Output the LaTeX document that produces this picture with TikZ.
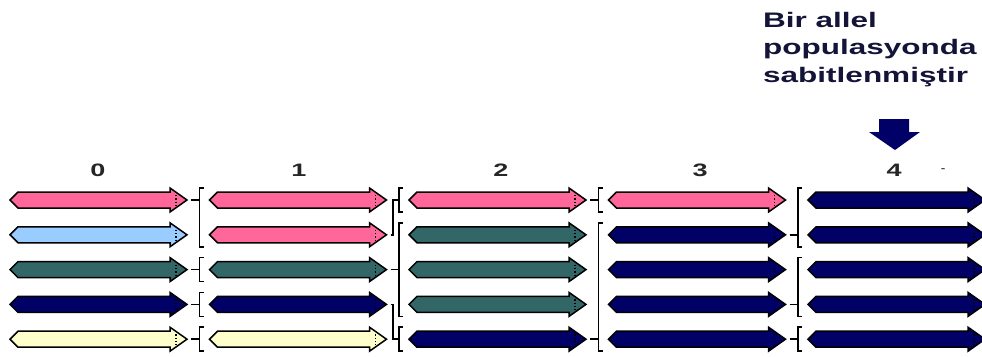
\documentclass[tikz,border=0pt]{standalone}
\usepackage{fontspec}
\setsansfont[FakeStretch=1.5]{Liberation Sans}
\usepackage{xcolor}
\usetikzlibrary{positioning}

\definecolor{pinkc}{HTML}{FF6699}
\definecolor{bluec}{HTML}{99CCFF}
\definecolor{tealc}{HTML}{336666}
\definecolor{navyc}{HTML}{000066}
\definecolor{yellowc}{HTML}{FFFFCC}
\definecolor{textc}{HTML}{141438}

\begin{document}
\begin{tikzpicture}[
    x=1pt, y=-1pt,
    % Gene copy arrow (one allele)
    pics/gene/.style={code={
        \draw[line width=1.5pt, line join=miter, fill=#1]
            (0,0) -- (8,-8) -- (160,-8) -- (160,-12) -- (177,0)
            -- (160,12) -- (160,8) -- (8,8) -- cycle;
        \draw[black, line width=1.3pt, dotted] (166,-5) -- (166,5);
        \coordinate (-tail) at (0,0);
        \coordinate (-tip) at (177,0);
    }},
    % Descent brackets
    brk/.style={line width=1.6pt, black},
    % Generation number
    genlab/.style={
        font=\sffamily\bfseries\fontsize{18}{18}\selectfont, text=black!85
    },
    % Annotation
    note/.style={
        font=\sffamily\bfseries\fontsize{21}{27.5}\selectfont, text=textc,
        align=left, inner sep=0pt
    },
]

\clip (0,0) rectangle (982,356);

% Column (tail) positions
\def\colA{10}
\def\colB{209.5}
\def\colC{409}
\def\colD{608.5}
\def\colE{808}

% Row centres
\def\rowA{200}
\def\rowB{234.8}
\def\rowC{269.6}
\def\rowD{304.4}
\def\rowE{339.2}

% Generation labels
\node[genlab] (lab0) at (98, 170) {0};
\node[genlab] (lab1) at (299, 170) {1};
\node[genlab] (lab2) at (501, 170) {2};
\node[genlab] (lab3) at (700, 170) {3};
\node[genlab] (lab4) at (894, 170) {4};
\node[font=\sffamily\bfseries\small, text=black!80] (tick) at (943, 170) {-};

% Annotation and pointer
\node[note, anchor=north west] (fixed) at (763, 12)
    {Bir allel\\populasyonda\\sabitlenmiştir};
\fill[navyc] (879,119) -- (909,119) -- (909,132) -- (920,132) -- (895,150)
    -- (869,132) -- (879,132) -- cycle;

% ===== Generation 0 =====
\pic (g0r1) at (\colA, \rowA) {gene=pinkc};
\pic (g0r2) at (\colA, \rowB) {gene=bluec};
\pic (g0r3) at (\colA, \rowC) {gene=tealc};
\pic (g0r4) at (\colA, \rowD) {gene=navyc};
\pic (g0r5) at (\colA, \rowE) {gene=yellowc};

% ===== Generation 1 =====
\pic (g1r1) at (\colB, \rowA) {gene=pinkc};
\pic (g1r2) at (\colB, \rowB) {gene=pinkc};
\pic (g1r3) at (\colB, \rowC) {gene=tealc};
\pic (g1r4) at (\colB, \rowD) {gene=navyc};
\pic (g1r5) at (\colB, \rowE) {gene=yellowc};

% ===== Generation 2 =====
\pic (g2r1) at (\colC, \rowA) {gene=pinkc};
\pic (g2r2) at (\colC, \rowB) {gene=tealc};
\pic (g2r3) at (\colC, \rowC) {gene=tealc};
\pic (g2r4) at (\colC, \rowD) {gene=tealc};
\pic (g2r5) at (\colC, \rowE) {gene=navyc};

% ===== Generation 3 =====
\pic (g3r1) at (\colD, \rowA) {gene=pinkc};
\pic (g3r2) at (\colD, \rowB) {gene=navyc};
\pic (g3r3) at (\colD, \rowC) {gene=navyc};
\pic (g3r4) at (\colD, \rowD) {gene=navyc};
\pic (g3r5) at (\colD, \rowE) {gene=navyc};

% ===== Generation 4 =====
\pic (g4r1) at (\colE, \rowA) {gene=navyc};
\pic (g4r2) at (\colE, \rowB) {gene=navyc};
\pic (g4r3) at (\colE, \rowC) {gene=navyc};
\pic (g4r4) at (\colE, \rowD) {gene=navyc};
\pic (g4r5) at (\colE, \rowE) {gene=navyc};

% Descent 0 -> 1
\draw[brk] ([shift={(-6pt,12pt)}]g1r1-tail) -| ([shift={(-10pt,-12pt)}]g1r2-tail) -- ++(4pt,0);
\draw[brk] ([xshift=4pt]g0r1-tip) -- ([xshift=-10pt]g1r1-tail);
\draw[brk] ([shift={(-6pt,12pt)}]g1r3-tail) -| ([shift={(-10pt,-12pt)}]g1r3-tail) -- ++(4pt,0);
\draw[brk] ([xshift=4pt]g0r3-tip) -- ([xshift=-10pt]g1r3-tail);
\draw[brk] ([shift={(-6pt,12pt)}]g1r4-tail) -| ([shift={(-10pt,-12pt)}]g1r4-tail) -- ++(4pt,0);
\draw[brk] ([xshift=4pt]g0r4-tip) -- ([xshift=-10pt]g1r4-tail);
\draw[brk] ([shift={(-6pt,12pt)}]g1r5-tail) -| ([shift={(-10pt,-12pt)}]g1r5-tail) -- ++(4pt,0);
\draw[brk] ([xshift=4pt]g0r5-tip) -- ([xshift=-10pt]g1r5-tail);

% Descent 1 -> 2
\draw[brk] ([shift={(-6pt,12pt)}]g2r1-tail) -| ([shift={(-10pt,-12pt)}]g2r1-tail) -- ++(4pt,0);
\draw[brk] ([xshift=4pt]g1r2-tip) -- ++(2.5pt,0) |- ([xshift=-10pt]g2r1-tail);
\draw[brk] ([shift={(-6pt,12pt)}]g2r2-tail) -| ([shift={(-10pt,-12pt)}]g2r4-tail) -- ++(4pt,0);
\draw[brk] ([xshift=4pt]g1r3-tip) -- ([xshift=-10pt]g2r3-tail);
\draw[brk] ([shift={(-6pt,12pt)}]g2r5-tail) -| ([shift={(-10pt,-12pt)}]g2r5-tail) -- ++(4pt,0);
\draw[brk] ([xshift=4pt]g1r4-tip) -- ++(2.5pt,0) |- ([xshift=-10pt]g2r5-tail);

% Descent 2 -> 3
\draw[brk] ([shift={(-6pt,12pt)}]g3r1-tail) -| ([shift={(-10pt,-12pt)}]g3r1-tail) -- ++(4pt,0);
\draw[brk] ([xshift=4pt]g2r1-tip) -- ([xshift=-10pt]g3r1-tail);
\draw[brk] ([shift={(-6pt,12pt)}]g3r2-tail) -| ([shift={(-10pt,-12pt)}]g3r5-tail) -- ++(4pt,0);
\draw[brk] ([xshift=4pt]g2r5-tip) -- ([xshift=-10pt]g3r5-tail);

% Descent 3 -> 4
\draw[brk] ([shift={(-6pt,12pt)}]g4r1-tail) -| ([shift={(-10pt,-12pt)}]g4r2-tail) -- ++(4pt,0);
\draw[brk] ([xshift=4pt]g3r2-tip) -- ([xshift=-10pt]g4r2-tail);
\draw[brk] ([shift={(-6pt,12pt)}]g4r3-tail) -| ([shift={(-10pt,-12pt)}]g4r4-tail) -- ++(4pt,0);
\draw[brk] ([xshift=4pt]g3r4-tip) -- ([xshift=-10pt]g4r4-tail);
\draw[brk] ([shift={(-6pt,12pt)}]g4r5-tail) -| ([shift={(-10pt,-12pt)}]g4r5-tail) -- ++(4pt,0);
\draw[brk] ([xshift=4pt]g3r5-tip) -- ([xshift=-10pt]g4r5-tail);

\end{tikzpicture}
\end{document}
